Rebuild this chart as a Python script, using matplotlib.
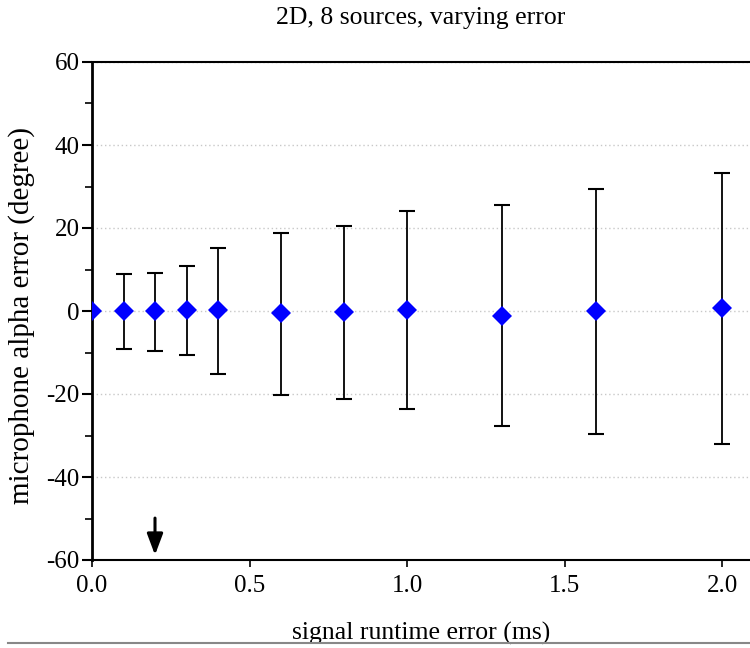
import numpy as np
import matplotlib
matplotlib.use('Agg')
from matplotlib import pyplot as plt
from matplotlib.lines import Line2D

plt.rcParams['font.family'] = ['Liberation Serif', 'DejaVu Serif']
plt.rcParams['axes.unicode_minus'] = False

# runtime error (ms) and resulting alpha error stats (degree)
runtime_err = [0.0, 0.1, 0.2, 0.3, 0.4, 0.6, 0.8, 1.0, 1.3, 1.6, 2.0]
alpha_mean = [0.0, -0.1, -0.1, 0.2, 0.2, -0.5, -0.2, 0.2, -1.3, 0.1, 0.8]
alpha_low = [0.0, -9.2, -9.6, -10.7, -15.2, -20.2, -21.2, -23.6, -27.7, -29.6, -32.0]
alpha_high = [0.0, 8.9, 9.2, 10.9, 15.2, 18.8, 20.5, 24.1, 25.6, 29.4, 33.2]
marked_runtime = 0.2

mean = np.array(alpha_mean)
yerr = [mean - np.array(alpha_low), np.array(alpha_high) - mean]

fig = plt.figure(figsize=(7.5, 6.48), dpi=100)
ax = fig.add_axes([92/750, 1-560/648, 1-92/750, (560-62)/648])

ax.errorbar(runtime_err, mean, yerr=yerr, fmt='none', ecolor='black',
            elinewidth=1.3, capsize=5.5, capthick=1.5, zorder=2)
ax.plot(runtime_err, mean, 'D', color='#0000ff', markersize=10.5,
        markeredgewidth=0, zorder=3)

ax.set_xlim(0, (750-92)/315)
ax.set_ylim(-60, 60)
ax.set_xticks([0.0, 0.5, 1.0, 1.5, 2.0])
ax.set_xticklabels(['0.0', '0.5', '1.0', '1.5', '2.0'])
ax.set_yticks(np.arange(-60, 61, 20))
ax.set_yticks(np.arange(-50, 60, 20), minor=True)
ax.yaxis.grid(True, linestyle=(0, (1, 2)), color='#c8c8c8', linewidth=1)
ax.set_axisbelow(True)

ax.spines['right'].set_visible(False)
ax.spines['left'].set_linewidth(2)
ax.spines['bottom'].set_linewidth(1.5)
ax.spines['top'].set_linewidth(1.5)
ax.tick_params(axis='y', which='major', direction='out', length=7, width=1.5,
               labelsize=18, pad=2)
ax.tick_params(axis='y', which='minor', direction='out', length=5, width=1.2)
ax.tick_params(axis='x', which='major', direction='out', length=5, width=1.2,
               labelsize=18, pad=6)

ax.set_title('2D, 8 sources, varying error', fontsize=18.5,
             y=1 + 44/498, va='center', pad=0)
ax.set_xlabel('signal runtime error (ms)', fontsize=18.5, va='center')
ax.xaxis.set_label_coords(0.5, -73/498)
ax.set_ylabel('microphone alpha error (degree)', fontsize=21, va='center')
ax.yaxis.set_label_coords(-70/658, 0.49)

# arrow marking the chosen runtime error
ax.annotate('', xy=(marked_runtime, -58.8), xytext=(marked_runtime, -49.9),
            arrowprops=dict(arrowstyle='-|>,head_length=0.8,head_width=0.3',
                            color='black', lw=2.2, mutation_scale=16,
                            shrinkA=0, shrinkB=0))

fig.add_artist(Line2D([8/750, 1], [1-643/648, 1-643/648],
                      color='#888888', linewidth=1.5))

fig.savefig('out.png', dpi=100)
